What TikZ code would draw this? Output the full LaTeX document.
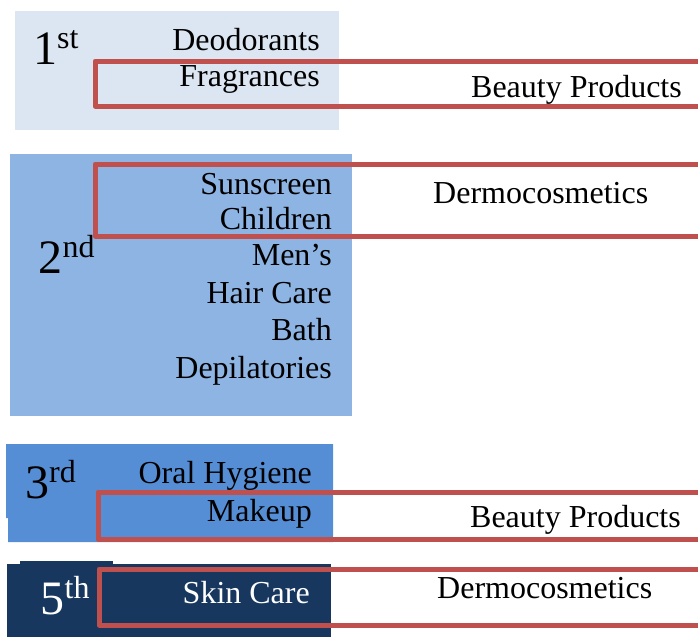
\documentclass[tikz,border=0pt]{standalone}
\usepackage{fontspec}
\setmainfont{Liberation Serif}
\definecolor{tierone}{HTML}{DCE6F2}
\definecolor{tiertwo}{HTML}{8EB4E3}
\definecolor{tierthree}{HTML}{558ED5}
\definecolor{tierfive}{HTML}{17375E}
\definecolor{bandred}{HTML}{C0504D}
\newcommand{\ordsup}[1]{\raisebox{16pt}{\fontsize{32}{32}\selectfont #1}}
\begin{document}
\begin{tikzpicture}[x=1pt,y=-1pt,
  item/.style={anchor=base east, inner sep=0pt, font=\fontsize{32}{36}\selectfont},
  rank/.style={anchor=base west, inner sep=0pt, font=\fontsize{48}{50}\selectfont},
  group/.style={anchor=base west, inner sep=0pt, font=\fontsize{32}{36}\selectfont},
  band/.style={draw=bandred, line width=5pt, line join=round}]
\useasboundingbox (0,0) rectangle (698,637);
\clip (0,0) rectangle (698,637);

% tier blocks
\fill[tierone] (15,11) rectangle (339,130);
\fill[tiertwo] (10,154) rectangle (352,416);
\fill[tierthree] (6,444) -- (333,444) -- (333,542) -- (8,542) -- (8,518) -- (6,518) -- cycle;
\fill[tierfive] (7,564) rectangle (331,637);
\fill[tierfive] (20,561) rectangle (113,564);

% 1st tier
\node[rank] (r1) at (33,64) {1\ordsup{st}};
\node[item] (deo) at (320,50) {Deodorants};
\node[item] (fra) at (320,86) {Fragrances};

% 2nd tier
\node[rank] (r2) at (38.5,273) {2\ordsup{nd}};
\node[item] (sun) at (332,194) {Sunscreen};
\node[item] (chi) at (332,229) {Children};
\node[item] (men) at (332,265) {Men’s};
\node[item] (hai) at (332,303) {Hair Care};
\node[item] (bat) at (332,340) {Bath};
\node[item] (dep) at (332,378) {Depilatories};

% 3rd tier
\node[rank] (r3) at (25,498) {3\ordsup{rd}};
\node[item] (ora) at (312,483) {Oral Hygiene};
\node[item] (mak) at (312,521) {Makeup};

% 5th tier
\node[rank, text=white] (r5) at (40.5,614) {5\ordsup{th}};
\node[item, text=white] (ski) at (310,603) {Skin Care};

% category bands running off to the right
\draw[band] (710,61) -- (95,61) -- (95,106) -- (710,106);
\draw[band] (710,164) -- (95,164) -- (95,236) -- (710,236);
\draw[band] (710,492) -- (98,492) -- (98,539) -- (710,539);
\draw[band] (710,569) -- (99,569) -- (99,625) -- (710,625);

\node[item] (bp1) at (682,97) {Beauty Products};
\node[group] (dc1) at (433,203) {Dermocosmetics};
\node[item] (bp2) at (681,527) {Beauty Products};
\node[group] (dc2) at (437,598) {Dermocosmetics};
\end{tikzpicture}
\end{document}
